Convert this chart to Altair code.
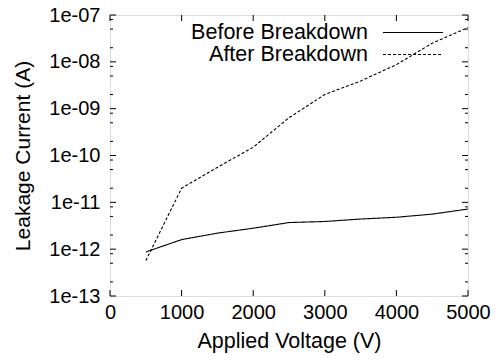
import altair as alt
import pandas as pd

voltage = [500, 1000, 1500, 2000, 2500, 3000, 3500, 4000, 4500, 5000]
before = [8.7e-13, 1.6e-12, 2.2e-12, 2.8e-12, 3.7e-12, 3.9e-12, 4.4e-12, 4.8e-12, 5.6e-12, 7.2e-12]
after = [5.7e-13, 2.0e-11, 5.6e-11, 1.5e-10, 6.4e-10, 2.0e-9, 3.9e-9, 8.7e-9, 2.5e-8, 5.4e-8]
series = ["Before Breakdown", "After Breakdown"]

x_ticks = [0, 1000, 2000, 3000, 4000, 5000]
y_ticks = [1e-13, 1e-12, 1e-11, 1e-10, 1e-9, 1e-8, 1e-7]
minor_mult = [2, 5, 8]

W, H = 358, 281

rows = []
for v, b, a in zip(voltage, before, after):
    rows.append({"series": series[0], "V": v, "I": b})
    rows.append({"series": series[1], "V": v, "I": a})
df = pd.DataFrame(rows)

xscale = alt.Scale(domain=[0, 5000], nice=False)
yscale = alt.Scale(type="log", domain=[1e-13, 1e-7], nice=False)

label_expr = ("'1e' + (round(log(datum.value)/LN10) < 0 ? '-' : '+') + "
              "(abs(round(log(datum.value)/LN10)) < 10 ? '0' : '') + "
              "abs(round(log(datum.value)/LN10))")

lines = alt.Chart(df).mark_line(color="#000", strokeWidth=1.1).encode(
    x=alt.X("V:Q", scale=xscale,
            axis=alt.Axis(values=x_ticks, format="d", title="Applied Voltage (V)", ticks=False,
                          domain=False, grid=False, labelFontSize=20, titleFontSize=21.5,
                          labelPadding=6, titlePadding=8, labelFont="Liberation Sans",
                          titleFont="Liberation Sans", titleFontWeight="normal",
                          labelColor="#000", titleColor="#000", labelFlush=False)),
    y=alt.Y("I:Q", scale=yscale,
            axis=alt.Axis(values=y_ticks, title="Leakage Current (A)", ticks=False,
                          domain=False, grid=False, labelFontSize=20, titleFontSize=21,
                          labelPadding=10, titlePadding=15, labelExpr=label_expr,
                          labelFont="Liberation Sans", titleFont="Liberation Sans",
                          titleFontWeight="normal", labelColor="#000", titleColor="#000")),
    strokeDash=alt.StrokeDash("series:N", scale=alt.Scale(domain=series, range=[[1, 0], [3, 2]]),
                              legend=None),
    detail="series:N",
)

# tick marks (inward, mirrored)
ydf = pd.DataFrame({"I": y_ticks})
minor_vals = [d * m for d in y_ticks[:-1] for m in minor_mult]
ymdf = pd.DataFrame({"I": minor_vals})
xdf = pd.DataFrame({"V": x_ticks})

def yticks(data, length):
    l = alt.Chart(data).mark_rule(color="#000", strokeWidth=1).encode(
        y=alt.Y("I:Q", scale=yscale), x=alt.value(0), x2=alt.value(length))
    r = alt.Chart(data).mark_rule(color="#000", strokeWidth=1).encode(
        y=alt.Y("I:Q", scale=yscale), x=alt.value(W - length), x2=alt.value(W))
    return [l, r]

def xticks(data, length):
    b = alt.Chart(data).mark_rule(color="#000", strokeWidth=1).encode(
        x=alt.X("V:Q", scale=xscale), y=alt.value(H), y2=alt.value(H - length))
    t = alt.Chart(data).mark_rule(color="#000", strokeWidth=1).encode(
        x=alt.X("V:Q", scale=xscale), y=alt.value(0), y2=alt.value(length))
    return [b, t]

tick_layers = yticks(ydf, 6) + yticks(ymdf, 3) + xticks(xdf, 6)

# legend (gnuplot style: text then sample)
legend_layers = []
legend_y = [17.5, 39.5]
dashes = [[1, 0], [3, 2]]
for name, ly, dash in zip(series, legend_y, dashes):
    ldf = pd.DataFrame({"series": [name]})
    legend_layers.append(
        alt.Chart(ldf).mark_text(align="right", baseline="middle", fontSize=21.5,
                                 font="Liberation Sans", color="#000").encode(
            text="series:N", x=alt.value(258), y=alt.value(ly)))
    legend_layers.append(
        alt.Chart(ldf).mark_rule(color="#000", strokeWidth=1.1, strokeDash=dash).encode(
            x=alt.value(273), x2=alt.value(333), y=alt.value(ly)))

chart = alt.layer(lines, *tick_layers, *legend_layers).properties(
    width=W, height=H,
    autosize=alt.AutoSizeParams(type="none"),
    padding={"left": 102, "top": 7, "right": 22, "bottom": 58},
).configure_view(stroke="#000", strokeWidth=1.2).configure(background="white")

chart.save("out.html", embed_options={"renderer": "svg", "actions": False})
